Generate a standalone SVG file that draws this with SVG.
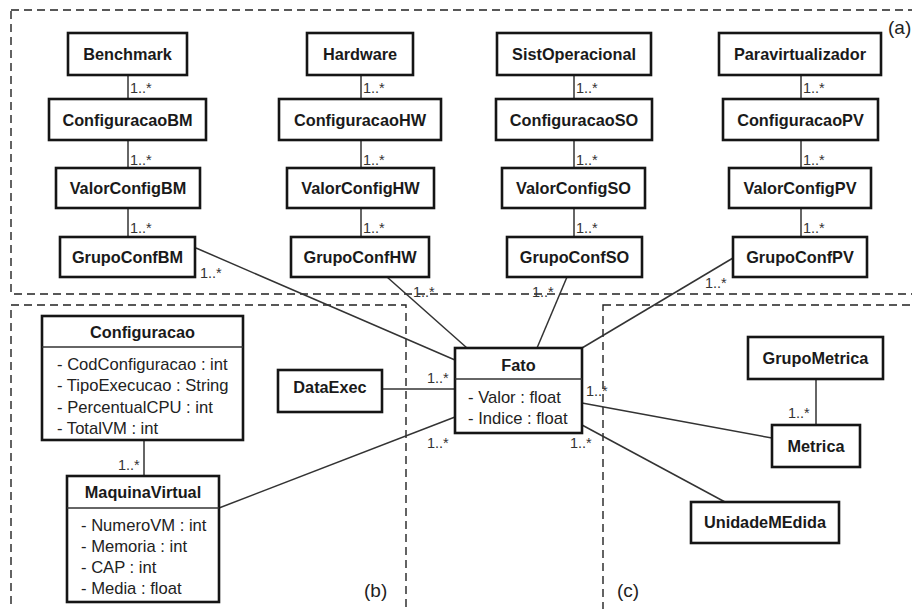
<svg xmlns="http://www.w3.org/2000/svg" width="912" height="609" viewBox="0 0 912 609">
<style>
.box{fill:#fff;stroke:#151515;stroke-width:2.6}
.sep{stroke:#333;stroke-width:1.3}
.t{font-family:"Liberation Sans",Arial,sans-serif;font-weight:bold;font-size:16.3px;fill:#1a1a1a;text-anchor:middle}
.a{font-family:"Liberation Sans",Arial,sans-serif;font-size:16.6px;fill:#222}
.m{font-family:"Liberation Sans",Arial,sans-serif;font-size:14.5px;fill:#333}
.c{stroke:#333;stroke-width:1.5;fill:none}
.d{fill:none;stroke:#222;stroke-width:1.4;stroke-dasharray:8 5}
.p{font-family:"Liberation Sans",Arial,sans-serif;font-size:19px;fill:#222}
</style>
<rect width="912" height="609" fill="#fff"/>
<g id="regions">
<rect class="d" x="11" y="10" width="910" height="284"/>
<rect class="d" x="11" y="305" width="395" height="320"/>
<rect class="d" x="603" y="305" width="320" height="320"/>
<text class="p" x="888" y="34">(a)</text>
<text class="p" x="364" y="597">(b)</text>
<text class="p" x="617" y="597">(c)</text>
</g>
<g id="connectors">
<line class="c" x1="128" y1="75" x2="128" y2="99"/>
<line class="c" x1="128" y1="140" x2="128" y2="168"/>
<line class="c" x1="128" y1="208" x2="128" y2="237"/>
<line class="c" x1="361" y1="75" x2="361" y2="99"/>
<line class="c" x1="361" y1="140" x2="361" y2="168"/>
<line class="c" x1="361" y1="208" x2="361" y2="237"/>
<line class="c" x1="574" y1="75" x2="574" y2="99"/>
<line class="c" x1="574" y1="140" x2="574" y2="168"/>
<line class="c" x1="574" y1="208" x2="574" y2="237"/>
<line class="c" x1="801" y1="75" x2="801" y2="99"/>
<line class="c" x1="801" y1="140" x2="801" y2="168"/>
<line class="c" x1="801" y1="208" x2="801" y2="237"/>
<line class="c" x1="196" y1="248" x2="455" y2="360"/>
<line class="c" x1="387" y1="277" x2="467" y2="348"/>
<line class="c" x1="567" y1="277" x2="537" y2="348"/>
<line class="c" x1="733" y1="258" x2="582" y2="348"/>
<line class="c" x1="382" y1="389" x2="455" y2="389"/>
<line class="c" x1="219" y1="508" x2="455" y2="417"/>
<line class="c" x1="144" y1="440" x2="144" y2="476"/>
<line class="c" x1="582" y1="403" x2="772" y2="438"/>
<line class="c" x1="582" y1="425" x2="725" y2="502"/>
<line class="c" x1="816" y1="379" x2="816" y2="425"/>
<text class="m" x="130" y="93">1..*</text>
<text class="m" x="130" y="165">1..*</text>
<text class="m" x="130" y="233">1..*</text>
<text class="m" x="363" y="93">1..*</text>
<text class="m" x="363" y="165">1..*</text>
<text class="m" x="363" y="233">1..*</text>
<text class="m" x="576" y="93">1..*</text>
<text class="m" x="576" y="165">1..*</text>
<text class="m" x="576" y="233">1..*</text>
<text class="m" x="803" y="93">1..*</text>
<text class="m" x="803" y="165">1..*</text>
<text class="m" x="803" y="233">1..*</text>
<text class="m" x="200" y="278">1..*</text>
<text class="m" x="413" y="297">1..*</text>
<text class="m" x="532" y="297">1..*</text>
<text class="m" x="705" y="288">1..*</text>
<text class="m" x="427" y="383">1..*</text>
<text class="m" x="427" y="448">1..*</text>
<text class="m" x="118" y="470">1..*</text>
<text class="m" x="586" y="396">1..*</text>
<text class="m" x="570" y="448">1..*</text>
<text class="m" x="788" y="418">1..*</text>
</g>
<g id="Benchmark"><rect class="box" x="68" y="33" width="119" height="42"/><text class="t" x="127.5" y="60">Benchmark</text></g>
<g id="ConfiguracaoBM"><rect class="box" x="49" y="99" width="157" height="41"/><text class="t" x="127.5" y="125.5">ConfiguracaoBM</text></g>
<g id="ValorConfigBM"><rect class="box" x="56" y="168" width="144" height="40"/><text class="t" x="128" y="194">ValorConfigBM</text></g>
<g id="GrupoConfBM"><rect class="box" x="60" y="237" width="135" height="40"/><text class="t" x="127.5" y="263">GrupoConfBM</text></g>
<g id="Hardware"><rect class="box" x="307" y="33" width="106" height="42"/><text class="t" x="360" y="60">Hardware</text></g>
<g id="ConfiguracaoHW"><rect class="box" x="279" y="99" width="162" height="41"/><text class="t" x="360" y="125.5">ConfiguracaoHW</text></g>
<g id="ValorConfigHW"><rect class="box" x="287" y="168" width="147" height="40"/><text class="t" x="360.5" y="194">ValorConfigHW</text></g>
<g id="GrupoConfHW"><rect class="box" x="291" y="237" width="138" height="40"/><text class="t" x="360" y="263">GrupoConfHW</text></g>
<g id="SistOperacional"><rect class="box" x="497" y="33" width="154" height="42"/><text class="t" x="574" y="60">SistOperacional</text></g>
<g id="ConfiguracaoSO"><rect class="box" x="496" y="99" width="156" height="41"/><text class="t" x="574" y="125.5">ConfiguracaoSO</text></g>
<g id="ValorConfigSO"><rect class="box" x="502" y="168" width="143" height="40"/><text class="t" x="573.5" y="194">ValorConfigSO</text></g>
<g id="GrupoConfSO"><rect class="box" x="507" y="237" width="135" height="40"/><text class="t" x="574.5" y="263">GrupoConfSO</text></g>
<g id="Paravirtualizador"><rect class="box" x="719" y="33" width="162" height="42"/><text class="t" x="800" y="60">Paravirtualizador</text></g>
<g id="ConfiguracaoPV"><rect class="box" x="723" y="99" width="155" height="41"/><text class="t" x="800.5" y="125.5">ConfiguracaoPV</text></g>
<g id="ValorConfigPV"><rect class="box" x="729" y="168" width="142" height="40"/><text class="t" x="800" y="194">ValorConfigPV</text></g>
<g id="GrupoConfPV"><rect class="box" x="733" y="237" width="134" height="40"/><text class="t" x="800" y="263">GrupoConfPV</text></g>
<g id="Configuracao"><rect class="box" x="42" y="316" width="201" height="124"/><line class="sep" x1="42" y1="347" x2="243" y2="347"/><text class="t" x="142.5" y="338">Configuracao</text>
<text class="a" x="57" y="370">- CodConfiguracao : int</text>
<text class="a" x="57" y="391">- TipoExecucao : String</text>
<text class="a" x="57" y="413">- PercentualCPU : int</text>
<text class="a" x="57" y="434">- TotalVM : int</text></g>
<g id="MaquinaVirtual"><rect class="box" x="67" y="476" width="152" height="126"/><line class="sep" x1="67" y1="508" x2="219" y2="508"/><text class="t" x="143" y="498">MaquinaVirtual</text>
<text class="a" x="81" y="531">- NumeroVM : int</text>
<text class="a" x="81" y="552">- Memoria : int</text>
<text class="a" x="81" y="573">- CAP : int</text>
<text class="a" x="81" y="594">- Media : float</text></g>
<g id="DataExec"><rect class="box" x="278" y="370" width="104" height="42"/><text class="t" x="330" y="393">DataExec</text></g>
<g id="Fato"><rect class="box" x="455" y="348" width="127" height="85"/><line class="sep" x1="455" y1="379" x2="582" y2="379"/><text class="t" x="518.5" y="371">Fato</text>
<text class="a" x="468" y="403">- Valor : float</text>
<text class="a" x="468" y="424">- Indice : float</text></g>
<g id="GrupoMetrica"><rect class="box" x="748" y="337" width="135" height="42"/><text class="t" x="815.5" y="364">GrupoMetrica</text></g>
<g id="Metrica"><rect class="box" x="772" y="425" width="88" height="42"/><text class="t" x="816" y="452">Metrica</text></g>
<g id="UnidadeMEdida"><rect class="box" x="691" y="502" width="148" height="41"/><text class="t" x="765" y="528">UnidadeMEdida</text></g>
</svg>
